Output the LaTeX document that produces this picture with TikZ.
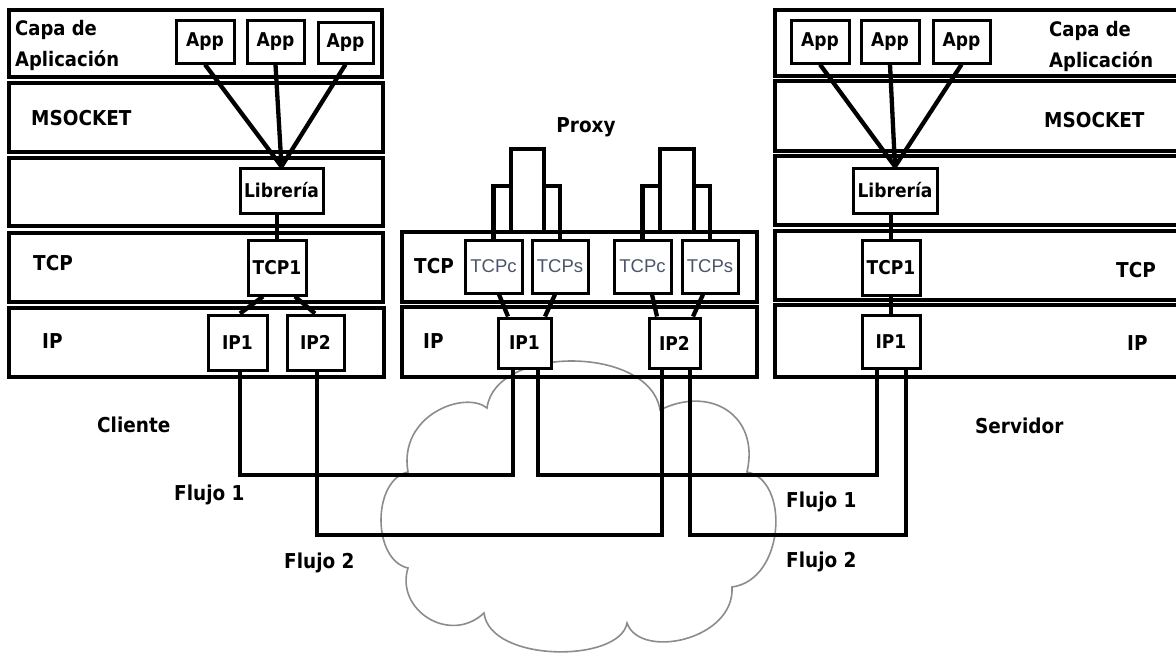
\documentclass[tikz,border=0pt]{standalone}
\usepackage{fontspec}
\newfontfamily\lblfont{DejaVu Sans Condensed}
\newfontfamily\tcpfont{Liberation Sans}
\usetikzlibrary{fit,calc}
\definecolor{cloudgray}{RGB}{140,140,140}
\definecolor{tcptext}{RGB}{75,85,105}

\begin{document}
\begin{tikzpicture}[x=1pt,y=-1pt,
  layer/.style={draw, line width=3.4pt, inner sep=0pt, outer sep=0pt},
  box/.style={draw, line width=3pt, fill=white, inner sep=0pt,
    font=\lblfont\bfseries\fontsize{19}{21}\selectfont},
  tcpbox/.style={box, font=\tcpfont\fontsize{18.5}{20}\selectfont, text=tcptext},
  bridge/.style={draw, line width=3.8pt, fill=white, inner sep=0pt},
  wire/.style={line width=4.3pt},
  lbl/.style={font=\lblfont\bfseries\fontsize{20.5}{24}\selectfont, inner sep=0pt},
  twoline/.style={lbl, align=left, font=\lblfont\bfseries\fontsize{20}{31}\selectfont},
  cloudline/.style={draw=cloudgray, line width=1.6pt}
]
\useasboundingbox (0,0) rectangle (1176,654);
\fill[white] (0,0) rectangle (1176,654);

% network cloud
\draw[cloudline] (487,408) .. controls (495,345) and (650,345) .. (660,410)
  .. controls (710,385) and (760,415) .. (747,472)
  .. controls (790,480) and (785,580) .. (732,587)
  .. controls (735,640) and (640,660) .. (627,623)
  .. controls (620,663) and (490,663) .. (484,613)
  .. controls (450,645) and (395,610) .. (408,568)
  .. controls (372,560) and (372,480) .. (408,472)
  .. controls (398,415) and (465,390) .. (487,408) -- cycle;

% client stack layers
\node[layer, fit={(9,10) (382,77)}] (cApp) {};
\node[layer, fit={(9,83) (383,152)}] (cSock) {};
\node[layer, fit={(9,158) (383,226)}] (cLib) {};
\node[layer, fit={(9,233) (383,302)}] (cTcp) {};
\node[layer, fit={(9,308) (384,377)}] (cIp) {};

% proxy layers
\node[layer, fit={(402,232) (757,302)}] (pTcp) {};
\node[layer, fit={(402,307) (757,377)}] (pIp) {};

% server stack layers
\node[layer, fit={(775,10) (1182,76)}] (sApp) {};
\node[layer, fit={(775,81) (1182,151)}] (sSock) {};
\node[layer, fit={(775,156) (1182,225)}] (sLib) {};
\node[layer, fit={(775,231) (1182,300)}] (sTcp) {};
\node[layer, fit={(775,305) (1182,377)}] (sIp) {};

% layer names
\node[twoline, anchor=base west] (cCapa) at (15,66) {Capa de\\Aplicación};
\node[lbl, anchor=base west] (cSockL) at (31,125) {MSOCKET};
\node[lbl, anchor=base west] (cTcpL) at (33,270) {TCP};
\node[lbl, anchor=base west] (cIpL) at (42,348) {IP};

\node[twoline, anchor=base west] (sCapa) at (1049,67) {Capa de\\Aplicación};
\node[lbl, anchor=base west] (sSockL) at (1044,127) {MSOCKET};
\node[lbl, anchor=base west] (sTcpL) at (1116,277) {TCP};
\node[lbl, anchor=base west] (sIpL) at (1127,350) {IP};

\node[lbl, anchor=base west] (pTcpL) at (414,273) {TCP};
\node[lbl, anchor=base west] (pIpL) at (423,348) {IP};
\node[lbl, anchor=base] (proxyL) at (586,132) {Proxy};

\node[lbl, anchor=base west] (clienteL) at (97,432) {Cliente};
\node[lbl, anchor=base west] (servidorL) at (975,433) {Servidor};
\node[lbl, anchor=base west] (f1L) at (174,500) {Flujo 1};
\node[lbl, anchor=base west] (f2L) at (284,568) {Flujo 2};
\node[lbl, anchor=base west] (f1R) at (786,507) {Flujo 1};
\node[lbl, anchor=base west] (f2R) at (786,567) {Flujo 2};

% client components
\node[box, minimum width=58, minimum height=43] (cA1) at (205,41.5) {App};
\node[box, minimum width=57, minimum height=43] (cA2) at (275.5,41.5) {App};
\node[box, minimum width=55, minimum height=41] (cA3) at (345.5,42.5) {App};
\node[box, minimum width=83, minimum height=45] (cLibB) at (281.5,190.5) {Librería};
\node[box, minimum width=58, minimum height=55] (cT1) at (277,267.5) {TCP1};
\node[box, minimum width=59, minimum height=55] (cI1) at (237.5,342.5) {IP1};
\node[box, minimum width=57, minimum height=55] (cI2) at (315.5,342.5) {IP2};

% server components
\node[box, minimum width=58, minimum height=43] (sA1) at (820,41.5) {App};
\node[box, minimum width=58, minimum height=43] (sA2) at (890,41.5) {App};
\node[box, minimum width=57, minimum height=43] (sA3) at (961.5,41.5) {App};
\node[box, minimum width=84, minimum height=45] (sLibB) at (895,190.5) {Librería};
\node[box, minimum width=58, minimum height=55] (sT1) at (891,267.5) {TCP1};
\node[box, minimum width=58, minimum height=53] (sI1) at (891,341.5) {IP1};

% proxy components
\node[bridge, minimum width=33, minimum height=83] (pBr1) at (527.5,190.5) {};
\node[bridge, minimum width=34, minimum height=83] (pBr2) at (677,190.5) {};
\node[tcpbox, minimum width=57, minimum height=53] (pTc1) at (493.5,266.5) {TCPc};
\node[tcpbox, minimum width=56, minimum height=53] (pTs1) at (560,266.5) {TCPs};
\node[tcpbox, minimum width=57, minimum height=53] (pTc2) at (642.5,266.5) {TCPc};
\node[tcpbox, minimum width=56, minimum height=53] (pTs2) at (710,266.5) {TCPs};
\node[box, minimum width=53, minimum height=50] (pI1) at (524.5,343) {IP1};
\node[box, minimum width=51, minimum height=50] (pI2) at (674.5,343) {IP2};

% client internal links
\draw[wire] (cA1.south) -- (cLibB.north);
\draw[wire] (cA2.south) -- (cLibB.north);
\draw[wire] (cA3.south) -- (cLibB.north);
\draw[wire] (cLibB.south -| cT1.north) -- (cT1.north);
\draw[wire] ([xshift=-14pt]cT1.south) -- ([xshift=2.5pt]cI1.north);
\draw[wire] ([xshift=18pt]cT1.south) -- ([xshift=-0.5pt]cI2.north);

% server internal links
\draw[wire] (sA1.south) -- (sLibB.north);
\draw[wire] (sA2.south) -- (sLibB.north);
\draw[wire] (sA3.south) -- (sLibB.north);
\draw[wire] (sLibB.south -| sT1.north) -- (sT1.north);
\draw[wire] (sT1.south) -- (sI1.north);

% proxy relays
\draw[wire] (pTc1.north) |- ([yshift=4.5pt]pBr1.west);
\draw[wire] (pTs1.north) |- ([yshift=4.5pt]pBr1.east);
\draw[wire] (pTc2.north) |- ([yshift=4.5pt]pBr2.west);
\draw[wire] (pTs2.north) |- ([yshift=4.5pt]pBr2.east);
\draw[wire] ([xshift=5.5pt]pTc1.south) -- ([xshift=-16.5pt]pI1.north);
\draw[wire] ([xshift=-5pt]pTs1.south) -- ([xshift=20.5pt]pI1.north);
\draw[wire] ([xshift=9.5pt]pTc2.south) -- ([xshift=-17.5pt]pI2.north);
\draw[wire] ([xshift=-7pt]pTs2.south) -- ([xshift=18.5pt]pI2.north);

% subflow paths
\coordinate (f1y) at (0,475);
\coordinate (f2y) at (0,535);
\coordinate (cI1a) at ([xshift=2.5pt]cI1.south);
\coordinate (cI2a) at ([xshift=1.5pt]cI2.south);
\coordinate (pI1a) at ([xshift=-11.5pt]pI1.south);
\coordinate (pI1b) at ([xshift=13.5pt]pI1.south);
\coordinate (pI2a) at ([xshift=-12.5pt]pI2.south);
\coordinate (pI2b) at ([xshift=15.5pt]pI2.south);
\coordinate (sI1a) at ([xshift=-14pt]sI1.south);
\coordinate (sI1b) at ([xshift=15pt]sI1.south);

\draw[wire] (cI1a) -- (cI1a |- f1y) -- (pI1a |- f1y) -- (pI1a);
\draw[wire] (pI1b) -- (pI1b |- f1y) -- (sI1a |- f1y) -- (sI1a);
\draw[wire] (cI2a) -- (cI2a |- f2y) -- (pI2a |- f2y) -- (pI2a);
\draw[wire] (pI2b) -- (pI2b |- f2y) -- (sI1b |- f2y) -- (sI1b);
\end{tikzpicture}
\end{document}
